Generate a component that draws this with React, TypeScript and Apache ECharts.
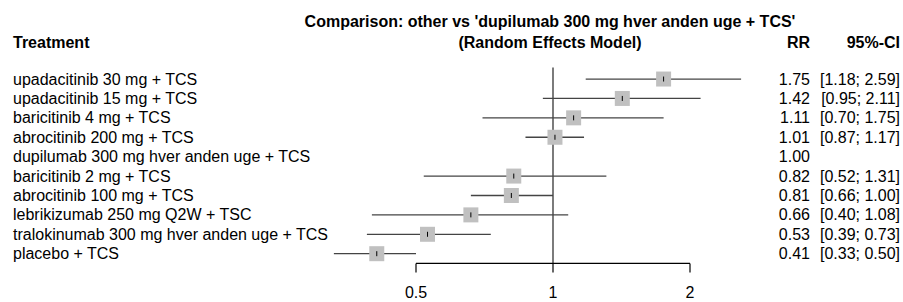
import React, { useEffect, useRef } from 'react';
import * as echarts from 'echarts';

const TREATMENTS = [
  'upadacitinib 30 mg + TCS',
  'upadacitinib 15 mg + TCS',
  'baricitinib 4 mg + TCS',
  'abrocitinib 200 mg + TCS',
  'dupilumab 300 mg hver anden uge + TCS',
  'baricitinib 2 mg + TCS',
  'abrocitinib 100 mg + TCS',
  'lebrikizumab 250 mg Q2W + TSC',
  'tralokinumab 300 mg hver anden uge + TCS',
  'placebo + TCS',
];
const RR = [1.75, 1.42, 1.11, 1.01, 1.0, 0.82, 0.81, 0.66, 0.53, 0.41];
const LOWER: (number | null)[] = [1.18, 0.95, 0.7, 0.87, null, 0.52, 0.66, 0.4, 0.39, 0.33];
const UPPER: (number | null)[] = [2.59, 2.11, 1.75, 1.17, null, 1.31, 1.0, 1.08, 0.73, 0.5];
const TICKS = [0.5, 1, 2];
const REFERENCE_VALUE = 1;
const TITLE_LINES = [
  "Comparison: other vs 'dupilumab 300 mg hver anden uge + TCS'",
  '(Random Effects Model)',
];
const HEADER_TREATMENT = 'Treatment';
const HEADER_RR = 'RR';
const HEADER_CI = '95%-CI';

const FONT = "'Liberation Sans', Arial, Helvetica, sans-serif";
const Y_MIN = -0.6;
const Y_AXIS = 9.5;

export default function App() {
  const ref = useRef<HTMLDivElement>(null);
  useEffect(() => {
    if (!ref.current) return;
    const chart = echarts.init(ref.current, null, { renderer: 'svg' });

    const forestData = RR.map((v, i) => [v, LOWER[i] ?? NaN, UPPER[i] ?? NaN, i]);

    const option: any = {
      animation: false,
      backgroundColor: '#ffffff',
      grid: { left: 279, right: 76, top: 67.4, bottom: 38.6, containLabel: false },
      xAxis: {
        type: 'log',
        logBase: 2,
        min: 0.25,
        max: 4,
        axisLine: { show: false },
        axisTick: { show: false },
        splitLine: { show: false },
        axisLabel: {
          show: true,
          margin: 21,
          fontSize: 16,
          fontFamily: FONT,
          color: '#000',
          showMinLabel: true,
          showMaxLabel: true,
          formatter: (v: number) => {
            const t = TICKS.find((k) => Math.abs(k - v) < 1e-6);
            return t !== undefined ? String(t) : '';
          },
        },
      },
      yAxis: {
        type: 'value',
        min: Y_MIN,
        max: Y_AXIS,
        inverse: true,
        show: false,
      },
      graphic: [
        {
          type: 'text',
          x: 550,
          y: 21,
          style: { text: TITLE_LINES[0], font: `bold 16px ${FONT}`, fill: '#000', align: 'center', verticalAlign: 'middle' },
        },
        {
          type: 'text',
          x: 550,
          y: 42,
          style: { text: TITLE_LINES[1], font: `bold 16px ${FONT}`, fill: '#000', align: 'center', verticalAlign: 'middle' },
        },
        {
          type: 'text',
          x: 13,
          y: 42,
          style: { text: HEADER_TREATMENT, font: `bold 16px ${FONT}`, fill: '#000', align: 'left', verticalAlign: 'middle' },
        },
        {
          type: 'text',
          x: 810,
          y: 42,
          style: { text: HEADER_RR, font: `bold 16px ${FONT}`, fill: '#000', align: 'right', verticalAlign: 'middle' },
        },
        {
          type: 'text',
          x: 900,
          y: 42,
          style: { text: HEADER_CI, font: `bold 16px ${FONT}`, fill: '#000', align: 'right', verticalAlign: 'middle' },
        },
      ],
      series: [
        {
          type: 'line',
          data: [[REFERENCE_VALUE, Y_MIN], [REFERENCE_VALUE, Y_AXIS]],
          showSymbol: false,
          symbol: 'none',
          lineStyle: { color: '#444', width: 1.4 },
          silent: true,
          z: 1,
        },
        {
          type: 'line',
          data: [[TICKS[0], Y_AXIS], [TICKS[TICKS.length - 1], Y_AXIS]],
          showSymbol: false,
          symbol: 'none',
          lineStyle: { color: '#000', width: 1.2 },
          silent: true,
          z: 2,
        },
        {
          type: 'custom',
          clip: false,
          silent: true,
          z: 3,
          data: TICKS.map((t) => [t, Y_AXIS]),
          encode: { x: 0, y: 1 },
          renderItem: (params: any, api: any) => {
            const p = api.coord([api.value(0), api.value(1)]);
            return {
              type: 'line',
              shape: { x1: p[0], y1: p[1], x2: p[0], y2: p[1] + 9 },
              style: { stroke: '#000', lineWidth: 1.2 },
            };
          },
        },
        {
          type: 'custom',
          clip: false,
          silent: true,
          z: 4,
          data: forestData,
          encode: { x: 0, y: 3 },
          renderItem: (params: any, api: any) => {
            const rr = api.value(0);
            const lo = api.value(1);
            const hi = api.value(2);
            const idx = api.value(3);
            if (isNaN(lo) || isNaN(hi)) return { type: 'group', children: [] };
            const c = api.coord([rr, idx]);
            const l = api.coord([lo, idx]);
            const h = api.coord([hi, idx]);
            const s = 15;
            return {
              type: 'group',
              children: [
                {
                  type: 'line',
                  shape: { x1: l[0], y1: c[1], x2: h[0], y2: c[1] },
                  style: { stroke: '#444', lineWidth: 1.3 },
                },
                {
                  type: 'rect',
                  shape: { x: c[0] - s / 2, y: c[1] - s / 2, width: s, height: s },
                  style: { fill: '#c0c0c0' },
                },
                {
                  type: 'line',
                  shape: { x1: c[0], y1: c[1] - 2.5, x2: c[0], y2: c[1] + 2.5 },
                  style: { stroke: '#000', lineWidth: 1 },
                },
              ],
            };
          },
        },
        {
          type: 'custom',
          clip: false,
          silent: true,
          z: 5,
          data: RR.map((v, i) => [v, i]),
          encode: { x: 0, y: 1 },
          renderItem: (params: any, api: any) => {
            const i = params.dataIndex;
            const c = api.coord([api.value(0), api.value(1)]);
            const lo = LOWER[i];
            const hi = UPPER[i];
            const ci = lo == null || hi == null ? '' : `[${lo.toFixed(2)}; ${hi.toFixed(2)}]`;
            const font = `16px ${FONT}`;
            return {
              type: 'group',
              children: [
                {
                  type: 'text',
                  x: 13,
                  y: c[1],
                  style: { text: TREATMENTS[i], font, fill: '#000', align: 'left', verticalAlign: 'middle' },
                },
                {
                  type: 'text',
                  x: 810,
                  y: c[1],
                  style: { text: RR[i].toFixed(2), font, fill: '#000', align: 'right', verticalAlign: 'middle' },
                },
                {
                  type: 'text',
                  x: 900,
                  y: c[1],
                  style: { text: ci, font, fill: '#000', align: 'right', verticalAlign: 'middle' },
                },
              ],
            };
          },
        },
      ],
    };

    chart.setOption(option);
    return () => chart.dispose();
  }, []);

  return (
    <div
      ref={ref}
      style={{ position: 'absolute', left: 0, top: 0, width: 903, height: 302, background: '#fff' }}
    />
  );
}
